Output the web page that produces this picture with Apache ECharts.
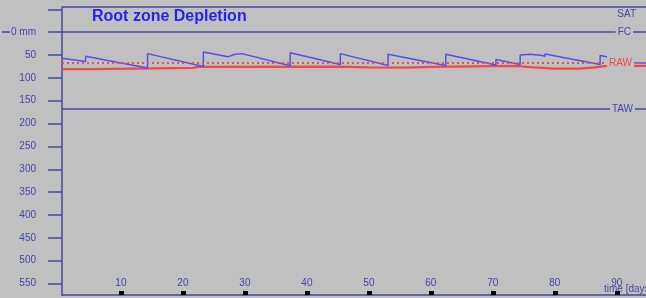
<!DOCTYPE html>
<html>
<head>
<meta charset="utf-8">
<script src="https://cdn.jsdelivr.net/npm/echarts@6/dist/echarts.min.js"></script>
<style>
html, body { margin: 0; padding: 0; background: #c0c0c0; }
#chart { width: 646px; height: 298px; }
</style>
</head>
<body>
<div id="chart"></div>
<script>
// root zone depletion (mm)
var depletionDays   = [0.5, 4.3, 4.3, 14.3, 14.3, 23.3, 23.3, 27.3, 27.3, 28.2, 29.5, 37.3, 37.3, 45.4, 45.4, 53.1, 53.1, 62.4, 62.4, 70.5, 70.5, 74.4, 74.4, 76, 78, 78.4, 78.4, 87.3, 87.3, 91, 92.8, 94.7];
var depletionValues = [57, 64, 52.5, 78.5, 47, 75, 43.5, 54, 51, 49, 47, 73.5, 45, 71, 47, 73, 48.5, 73, 48.5, 72, 60, 71, 50, 48.5, 51, 53, 48, 71, 51, 61, 67, 67.5];

// red curve (readily available water)
var rawDays   = [0.5, 5.3, 5.3, 21.6, 22.5, 45, 50, 56, 60, 70, 74, 76.5, 80, 84, 86.5, 88, 94.7];
var rawValues = [81, 81, 78.5, 78, 76, 75.5, 77, 77.5, 76, 74.5, 74, 77, 80, 80, 77, 74.5, 74];

var rawLevel = 67.5;
var satLevel = -55;
var fcLevel = 0;
var tawLevel = 168;

var xTicks = [10, 20, 30, 40, 50, 60, 70, 80, 90];
var yTicks = [-50, 0, 50, 100, 150, 200, 250, 300, 350, 400, 450, 500, 550];

var navy = '#4646a6';
var font = 'Liberation Sans, Arial, sans-serif';

function pairs(xs, ys) {
    var out = [];
    for (var i = 0; i < xs.length; i++) out.push([xs[i], ys[i]]);
    return out;
}

var chart = echarts.init(document.getElementById('chart'));

var option = {
    backgroundColor: '#c0c0c0',
    animation: false,
    title: {
        text: 'Root zone Depletion',
        left: 92,
        top: 9,
        padding: 0,
        textStyle: {
            fontFamily: font,
            fontSize: 16,
            fontWeight: 'bold',
            color: '#2424ee'
        }
    },
    grid: { left: 62, right: 0, top: 7, bottom: 3 },
    xAxis: {
        type: 'value',
        min: 0.5,
        max: 94.7,
        axisLine: { show: true, onZero: false, lineStyle: { color: navy, width: 1.5 } },
        axisTick: {
            customValues: xTicks,
            inside: true,
            length: 4,
            lineStyle: { color: '#000', width: 5 }
        },
        axisLabel: {
            customValues: xTicks,
            inside: true,
            margin: 7,
            color: navy,
            fontFamily: font,
            fontSize: 10
        },
        splitLine: { show: false }
    },
    yAxis: {
        type: 'value',
        inverse: true,
        min: -55,
        max: 575,
        axisLine: { show: true, onZero: false, lineStyle: { color: navy, width: 1.5 } },
        axisTick: {
            customValues: yTicks,
            length: 14,
            lineStyle: { color: navy, width: 1.5 }
        },
        axisLabel: {
            customValues: yTicks,
            margin: 26,
            color: navy,
            fontFamily: font,
            fontSize: 10,
            formatter: function (v) {
                if (v < 0) return '';
                if (v === 0) return '0 mm';
                return v;
            }
        },
        splitLine: { show: false }
    },
    graphic: [
        {
            type: 'line',
            shape: { x1: 2, y1: 32, x2: 10, y2: 32 },
            style: { stroke: navy, lineWidth: 1.5 }
        },
        {
            type: 'text',
            left: 604,
            top: 284,
            style: { text: 'time [days]', fill: navy, font: '10px ' + font }
        }
    ],
    series: [
        {
            name: 'RAW curve',
            type: 'line',
            data: pairs(rawDays, rawValues),
            showSymbol: false,
            lineStyle: { color: '#ee4a4a', width: 2.2 },
            z: 2
        },
        {
            name: 'Depletion',
            type: 'line',
            data: pairs(depletionDays, depletionValues),
            showSymbol: false,
            lineStyle: { color: '#5050ee', width: 1.5 },
            z: 3
        },
        {
            name: 'levels',
            type: 'line',
            data: [],
            z: 4,
            markLine: {
                silent: true,
                symbol: ['none', 'none'],
                data: [
                    {
                        yAxis: satLevel,
                        lineStyle: { color: navy, width: 1.5, type: 'solid' },
                        label: { formatter: 'SAT', position: 'insideEndBottom', distance: [10, 2], color: navy, fontFamily: font, fontSize: 10 }
                    },
                    {
                        yAxis: fcLevel,
                        lineStyle: { color: navy, width: 1.5, type: 'solid' },
                        label: { formatter: 'FC', position: 'insideEnd', distance: 13, padding: [1, 2], backgroundColor: '#c0c0c0', color: navy, fontFamily: font, fontSize: 10 }
                    },
                    {
                        yAxis: rawLevel,
                        lineStyle: { color: '#ee5050', width: 2, type: [2, 3] },
                        label: { formatter: 'RAW', position: 'insideEnd', distance: 12, padding: [2, 2], backgroundColor: '#c0c0c0', color: '#ee4a4a', fontFamily: font, fontSize: 10 }
                    },
                    {
                        yAxis: tawLevel,
                        lineStyle: { color: navy, width: 1.5, type: 'solid' },
                        label: { formatter: 'TAW', position: 'insideEnd', distance: 11, padding: [1, 2], backgroundColor: '#c0c0c0', color: navy, fontFamily: font, fontSize: 10 }
                    }
                ]
            }
        }
    ]
};

chart.setOption(option);
</script>
</body>
</html>
